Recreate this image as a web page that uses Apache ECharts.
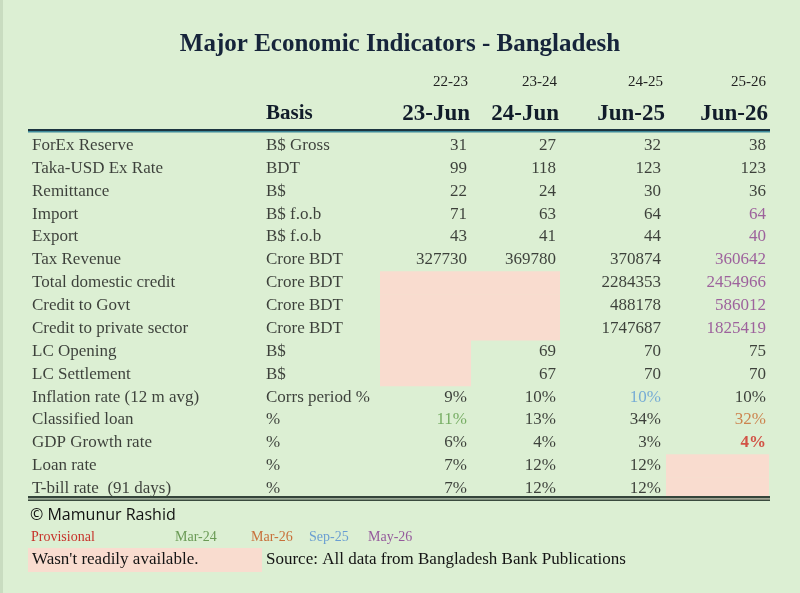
<!DOCTYPE html>
<html><head><meta charset="utf-8">
<script src="https://cdn.jsdelivr.net/npm/echarts@6/dist/echarts.min.js"></script>
<style>html,body{margin:0;padding:0;background:#dcefd3;}#c{width:800px;height:593px;}</style>
</head><body><div id="c"></div>
<script>
// ---------- data ----------
const titleText = 'Major Economic Indicators - Bangladesh';
const yearHeads = ['22-23', '23-24', '24-25', '25-26'];
const dateHeads = ['23-Jun', '24-Jun', 'Jun-25', 'Jun-26'];
const rowLabels = ['ForEx Reserve', 'Taka-USD Ex Rate', 'Remittance', 'Import', 'Export', 'Tax Revenue',
  'Total domestic credit', 'Credit to Govt', 'Credit to private sector', 'LC Opening', 'LC Settlement',
  'Inflation rate (12 m avg)', 'Classified loan', 'GDP Growth rate', 'Loan rate', 'T-bill rate  (91 days)'];
const basisLabels = ['B$ Gross', 'BDT', 'B$', 'B$ f.o.b', 'B$ f.o.b', 'Crore BDT', 'Crore BDT', 'Crore BDT',
  'Crore BDT', 'B$', 'B$', 'Corrs period %', '%', '%', '%', '%'];
const jun23 = [31, 99, 22, 71, 43, 327730, null, null, null, null, null, 9, 11, 6, 7, 7];
const jun24 = [27, 118, 24, 63, 41, 369780, null, null, null, 69, 67, 10, 13, 4, 12, 12];
const jun25 = [32, 123, 30, 64, 44, 370874, 2284353, 488178, 1747687, 70, 70, 10, 34, 3, 12, 12];
const jun26 = [38, 123, 36, 64, 40, 360642, 2454966, 586012, 1825419, 75, 70, 10, 32, 4, null, null];
// note keys per cell (which reference date / status applies)
const notes23 = ['', '', '', '', '', '', '', '', '', '', '', '', 'mar24', '', '', ''];
const notes24 = ['', '', '', '', '', '', '', '', '', '', '', '', '', '', '', ''];
const notes25 = ['', '', '', '', '', '', '', '', '', '', '', 'sep25', '', '', '', ''];
const notes26 = ['', '', '', 'may26', 'may26', 'may26', 'may26', 'may26', 'may26', '', '', '', 'mar26', 'prov', '', ''];
const noteKeys = ['prov', 'mar24', 'mar26', 'sep25', 'may26'];
const noteLabels = ['Provisional', 'Mar-24', 'Mar-26', 'Sep-25', 'May-26'];
const unavailableText = "Wasn't readily available.";
const sourceText = 'Source: All data from Bangladesh Bank Publications';
const creditText = '\u00A9 Mamunur Rashid';

// ---------- layout / style ----------
const serif = '"Liberation Serif", "DejaVu Serif", serif';
const colBounds = [380, 471, 560, 666, 769];       // left edge of value col 1 .. right edge of col 4
const textPad = [4, 4, 5, 3];
const labelX = 32, basisX = 266;
const noteColor = {prov: '#cf2a22', mar24: '#5e9e48', mar26: '#c8692e', sep25: '#5d9bd6', may26: '#8d3f8e'};
const noteLegendColor = {prov: '#c7332b', mar24: '#6a9a55', mar26: '#c8703a', sep25: '#6a9ed2', may26: '#955a9c'};
const noteLegendX = [31, 175, 251, 309, 368];
const pink = '#f9dccf';
const ink = '#141414';

const valueCols = [jun23, jun24, jun25, jun26];
const noteCols = [notes23, notes24, notes25, notes26];
const isPct = basisLabels.map(b => b.indexOf('%') >= 0);

function fmt(v, r) { return v == null ? '' : (isPct[r] ? v + '%' : String(v)); }

// text series data
const labelData = rowLabels.map((t, r) => ({value: [labelX, r], name: t}));
const basisData = basisLabels.map((t, r) => ({value: [basisX, r], name: t}));
const valueData = [];
const gapData = [];
valueCols.forEach((col, c) => {
  col.forEach((v, r) => {
    if (v == null) { gapData.push([c, r]); return; }
    const key = noteCols[c][r];
    valueData.push({
      value: [colBounds[c + 1] - textPad[c], r],
      name: fmt(v, r),
      label: {color: key ? noteColor[key] : ink, fontWeight: key === 'prov' ? 'bold' : 'normal'}
    });
  });
});

const chart = echarts.init(document.getElementById('c'), null, {renderer: 'canvas'});

const graphics = [];
// column headers
yearHeads.forEach((t, c) => graphics.push({type: 'text', x: colBounds[c + 1] - 3, y: 82,
  style: {text: t, font: '15px ' + serif, fill: '#222', align: 'right', verticalAlign: 'middle'}}));
dateHeads.forEach((t, c) => graphics.push({type: 'text', x: colBounds[c + 1] - 1, y: 114,
  style: {text: t, font: 'bold 23px ' + serif, fill: '#111c2a', align: 'right', verticalAlign: 'middle'}}));
graphics.push({type: 'text', x: basisX, y: 114,
  style: {text: 'Basis', font: 'bold 21px ' + serif, fill: '#111c2a', align: 'left', verticalAlign: 'middle'}});
// rules
graphics.push({type: 'rect', z: 100, shape: {x: 28, y: 129, width: 742, height: 2}, style: {fill: '#1c3440'}});
graphics.push({type: 'rect', z: 100, shape: {x: 28, y: 131, width: 742, height: 1.5}, style: {fill: '#3e8a9a'}});
graphics.push({type: 'rect', z: 100, shape: {x: 28, y: 496, width: 742, height: 2.5}, style: {fill: '#34443a'}});
graphics.push({type: 'rect', z: 100, shape: {x: 28, y: 498.5, width: 742, height: 1}, style: {fill: '#a9b8a2'}});
graphics.push({type: 'rect', z: 100, shape: {x: 28, y: 499.5, width: 742, height: 1.5}, style: {fill: '#3a4a3e'}});
// left frame edge
graphics.push({type: 'rect', shape: {x: 0, y: 0, width: 3, height: 593}, style: {fill: '#c9dcc0'}});
// footer
graphics.push({type: 'text', x: 30, y: 515,
  style: {text: creditText, font: '16px "Open Sans", Lato, sans-serif', fill: '#111', align: 'left', verticalAlign: 'middle'}});
noteKeys.forEach((k, i) => graphics.push({type: 'text', x: noteLegendX[i], y: 537,
  style: {text: noteLabels[i], font: '14px ' + serif, fill: noteLegendColor[k], align: 'left', verticalAlign: 'middle'}}));
graphics.push({type: 'rect', shape: {x: 28, y: 548, width: 234, height: 24}, style: {fill: pink}});
graphics.push({type: 'text', x: 32, y: 560,
  style: {text: unavailableText, font: '17px ' + serif, fill: ink, align: 'left', verticalAlign: 'middle'}});
graphics.push({type: 'text', x: basisX, y: 560,
  style: {text: sourceText, font: '17px ' + serif, fill: ink, align: 'left', verticalAlign: 'middle'}});

function textSeries(name, data, pos) {
  return {
    type: 'scatter', name: name, data: data, symbolSize: 0, silent: true, z: 5,
    label: {show: true, position: pos, distance: 0, formatter: p => p.name,
      fontFamily: serif, fontSize: 17, color: ink}
  };
}

chart.setOption({
  backgroundColor: '#dcefd3',
  animation: false,
  title: {text: titleText, left: 'center', top: 27,
    textStyle: {fontFamily: serif, fontSize: 25, fontWeight: 'bold', color: '#16243a'}},
  grid: {left: 0, right: 0, top: 134, bottom: 93},
  xAxis: {type: 'value', min: 0, max: 800, show: false},
  yAxis: {type: 'category', data: rowLabels, inverse: true, show: false},
  graphic: graphics,
  series: [
    {
      type: 'custom', name: 'unavailable', data: gapData, z: 1, silent: true,
      renderItem: function (params, api) {
        const c = api.value(0), r = api.value(1);
        const p0 = api.coord([colBounds[c], r]);
        const p1 = api.coord([colBounds[c + 1], r]);
        const h = api.size([0, 1])[1];
        return {type: 'rect', shape: {x: p0[0], y: p0[1] - h / 2, width: p1[0] - p0[0], height: h + 0.5},
          style: {fill: pink}};
      },
      encode: {x: -1, y: 1}
    },
    textSeries('labels', labelData, 'right'),
    textSeries('basis', basisData, 'right'),
    textSeries('values', valueData, 'left')
  ]
});
</script>
</body></html>
